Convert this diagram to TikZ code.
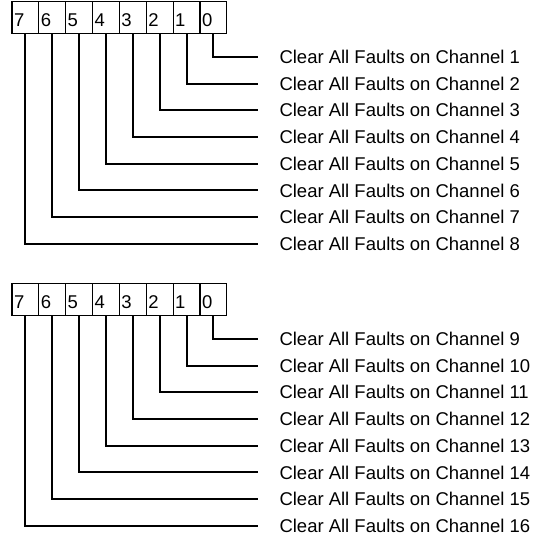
\documentclass[tikz,border=0pt]{standalone}
\usepackage{fontspec}
\setmainfont{Liberation Sans}
\usepackage{tikz}
\usetikzlibrary{positioning}

\begin{document}
\begin{tikzpicture}[
  bitcell/.style={draw, line width=0.5pt, minimum width=0.47cm, minimum height=0.49cm, inner xsep=1pt, text width=0.47cm-2pt, align=left, text height=9.1pt, text depth=0pt, font=\fontsize{9.2pt}{11pt}\selectfont},
  chlabel/.style={anchor=west, inner xsep=0.37cm, inner ysep=1pt, font=\fontsize{9.2pt}{11pt}\selectfont},
  lead/.style={line width=1pt}
]
  \useasboundingbox (0,0) rectangle (9.345,9.3975);

  %% First register (channels 1-8)
  \node[bitcell] (ra7) at (0.445,9.091) {7};
  \node[bitcell] (ra6) at (0.915,9.091) {6};
  \node[bitcell] (ra5) at (1.385,9.091) {5};
  \node[bitcell] (ra4) at (1.855,9.091) {4};
  \node[bitcell] (ra3) at (2.325,9.091) {3};
  \node[bitcell] (ra2) at (2.795,9.091) {2};
  \node[bitcell] (ra1) at (3.265,9.091) {1};
  \node[bitcell] (ra0) at (3.735,9.091) {0};

  \node[chlabel] (ch1) at (4.515,8.400) {Clear All Faults on Channel 1};
  \node[chlabel] (ch2) at (4.515,7.933) {Clear All Faults on Channel 2};
  \node[chlabel] (ch3) at (4.515,7.466) {Clear All Faults on Channel 3};
  \node[chlabel] (ch4) at (4.515,6.999) {Clear All Faults on Channel 4};
  \node[chlabel] (ch5) at (4.515,6.532) {Clear All Faults on Channel 5};
  \node[chlabel] (ch6) at (4.515,6.065) {Clear All Faults on Channel 6};
  \node[chlabel] (ch7) at (4.515,5.598) {Clear All Faults on Channel 7};
  \node[chlabel] (ch8) at (4.515,5.131) {Clear All Faults on Channel 8};

  \draw[lead] (ra0.south) |- (ch1.west);
  \draw[lead] (ra1.south) |- (ch2.west);
  \draw[lead] (ra2.south) |- (ch3.west);
  \draw[lead] (ra3.south) |- (ch4.west);
  \draw[lead] (ra4.south) |- (ch5.west);
  \draw[lead] (ra5.south) |- (ch6.west);
  \draw[lead] (ra6.south) |- (ch7.west);
  \draw[lead] (ra7.south) |- (ch8.west);

  %% Second register (channels 9-16)
  \node[bitcell] (rb7) at (0.445,4.156) {7};
  \node[bitcell] (rb6) at (0.915,4.156) {6};
  \node[bitcell] (rb5) at (1.385,4.156) {5};
  \node[bitcell] (rb4) at (1.855,4.156) {4};
  \node[bitcell] (rb3) at (2.325,4.156) {3};
  \node[bitcell] (rb2) at (2.795,4.156) {2};
  \node[bitcell] (rb1) at (3.265,4.156) {1};
  \node[bitcell] (rb0) at (3.735,4.156) {0};

  \node[chlabel] (ch9) at (4.515,3.465) {Clear All Faults on Channel 9};
  \node[chlabel] (ch10) at (4.515,2.998) {Clear All Faults on Channel 10};
  \node[chlabel] (ch11) at (4.515,2.531) {Clear All Faults on Channel 11};
  \node[chlabel] (ch12) at (4.515,2.064) {Clear All Faults on Channel 12};
  \node[chlabel] (ch13) at (4.515,1.597) {Clear All Faults on Channel 13};
  \node[chlabel] (ch14) at (4.515,1.130) {Clear All Faults on Channel 14};
  \node[chlabel] (ch15) at (4.515,0.663) {Clear All Faults on Channel 15};
  \node[chlabel] (ch16) at (4.515,0.196) {Clear All Faults on Channel 16};

  \draw[lead] (rb0.south) |- (ch9.west);
  \draw[lead] (rb1.south) |- (ch10.west);
  \draw[lead] (rb2.south) |- (ch11.west);
  \draw[lead] (rb3.south) |- (ch12.west);
  \draw[lead] (rb4.south) |- (ch13.west);
  \draw[lead] (rb5.south) |- (ch14.west);
  \draw[lead] (rb6.south) |- (ch15.west);
  \draw[lead] (rb7.south) |- (ch16.west);
\end{tikzpicture}
\end{document}
